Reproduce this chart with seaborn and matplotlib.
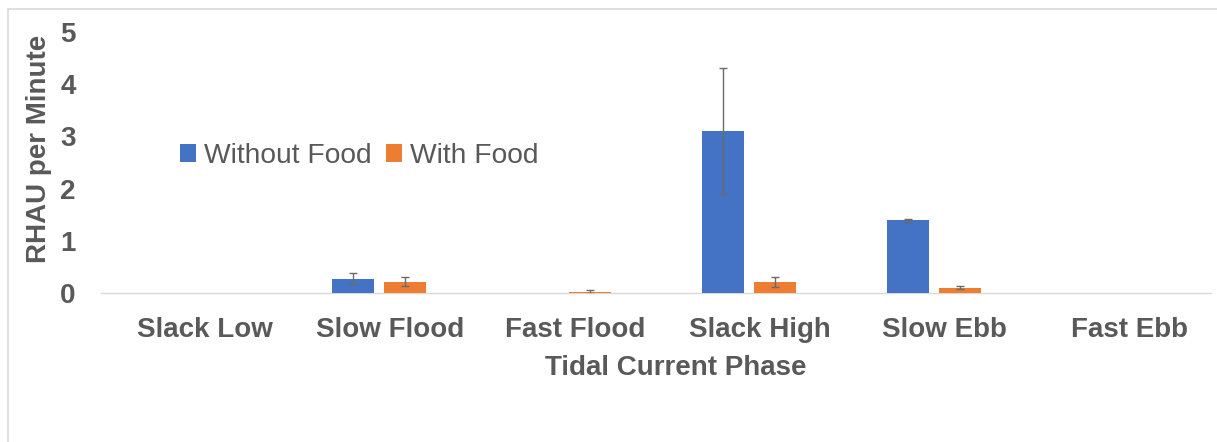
import matplotlib
matplotlib.use("Agg")
import matplotlib.pyplot as plt
import matplotlib.transforms as mtransforms
from matplotlib.patches import Rectangle
import pandas as pd
import seaborn as sns

# Mean RHAU per minute for each tidal current phase
categories = ["Slack Low", "Slow Flood", "Fast Flood", "Slack High", "Slow Ebb", "Fast Ebb"]
without_food = [0.0, 0.27, 0.0, 3.10, 1.39, 0.0]
with_food = [0.0, 0.22, 0.02, 0.21, 0.10, 0.0]
# Standard error of each mean
without_food_err = [0.0, 0.105, 0.0, 1.21, 0.03, 0.0]
with_food_err = [0.0, 0.095, 0.03, 0.095, 0.03, 0.0]
series_names = ["Without Food", "With Food"]
y_ticks = [0, 1, 2, 3, 4, 5]

df = pd.DataFrame({
    "phase": categories * 2,
    "rate": without_food + with_food,
    "group": [series_names[0]] * len(categories) + [series_names[1]] * len(categories),
})

sns.set_theme(style="white")
plt.rcParams["font.family"] = ["Liberation Sans", "DejaVu Sans"]

TEXT = "#595959"
W, H, DPI = 1217, 442, 100
fig = plt.figure(figsize=(W / DPI, H / DPI), dpi=DPI)
ax = fig.add_axes([101.3 / W, 149 / H, 1110 / W, 261 / H])

sns.barplot(
    data=df, x="phase", y="rate", hue="group", order=categories,
    hue_order=series_names, palette=["#4472C4", "#ED7D31"],
    width=0.562, gap=0.19, errorbar=None, ax=ax,
    linewidth=0, saturation=1,
)

# Error bars on top of each bar
for container, errs in zip(ax.containers, [without_food_err, with_food_err]):
    for bar, e in zip(container, errs):
        if e <= 0:
            continue
        xc = bar.get_x() + bar.get_width() / 2
        ax.errorbar(xc, bar.get_height(), yerr=e, fmt="none",
                    ecolor="#6b6b6b", elinewidth=1.0, capsize=3.2, capthick=1.0)

ax.set_xlim(-0.5, len(categories) - 0.5)
ax.set_ylim(0, 5)
ax.set_yticks(y_ticks)
ax.set_yticklabels([str(t) for t in y_ticks])

for s in ["top", "right", "left"]:
    ax.spines[s].set_visible(False)
ax.spines["bottom"].set_color("#D9D9D9")
ax.spines["bottom"].set_linewidth(1.0)
ax.spines["bottom"].set_zorder(0.5)

ax.tick_params(axis="both", length=0, colors=TEXT)
ax.tick_params(axis="x", pad=17)
ax.tick_params(axis="y", pad=18.5)
for lab in ax.get_xticklabels() + ax.get_yticklabels():
    lab.set_fontsize(20)
    lab.set_fontweight("bold")
    lab.set_color(TEXT)

# Category labels sit slightly right of the bar clusters
shift = mtransforms.ScaledTranslation(11 / DPI, 0, fig.dpi_scale_trans)
for lab in ax.get_xticklabels():
    lab.set_transform(lab.get_transform() + shift)

ax.set_xlabel("")
ax.set_ylabel("")
fig.text(675.5 / W, 1 - 368 / H, "Tidal Current Phase", ha="center", va="center",
         fontsize=20, fontweight="bold", color=TEXT)
fig.text(39.5 / W, 1 - 149 / H, "RHAU per Minute", ha="center", va="center",
         rotation=90, fontsize=20, fontweight="bold", color=TEXT)

handles, labels = ax.get_legend_handles_labels()
ax.legend(handles, labels, ncol=2, frameon=False, loc="center left",
          bbox_to_anchor=(179.5 / W, 1 - 156 / H), bbox_transform=fig.transFigure,
          fontsize=20.3, labelcolor=TEXT, handlelength=0.57, handleheight=0.57,
          handletextpad=0.3, columnspacing=0.5, borderaxespad=0, borderpad=0)

# Chart-area border
fig.patches.append(Rectangle((7.5 / W, -0.1), 1.2, 1.1 - 9.3 / H,
                             transform=fig.transFigure, fill=False,
                             edgecolor="#D9D9D9", linewidth=1.2))

fig.savefig("out.png", dpi=DPI)
